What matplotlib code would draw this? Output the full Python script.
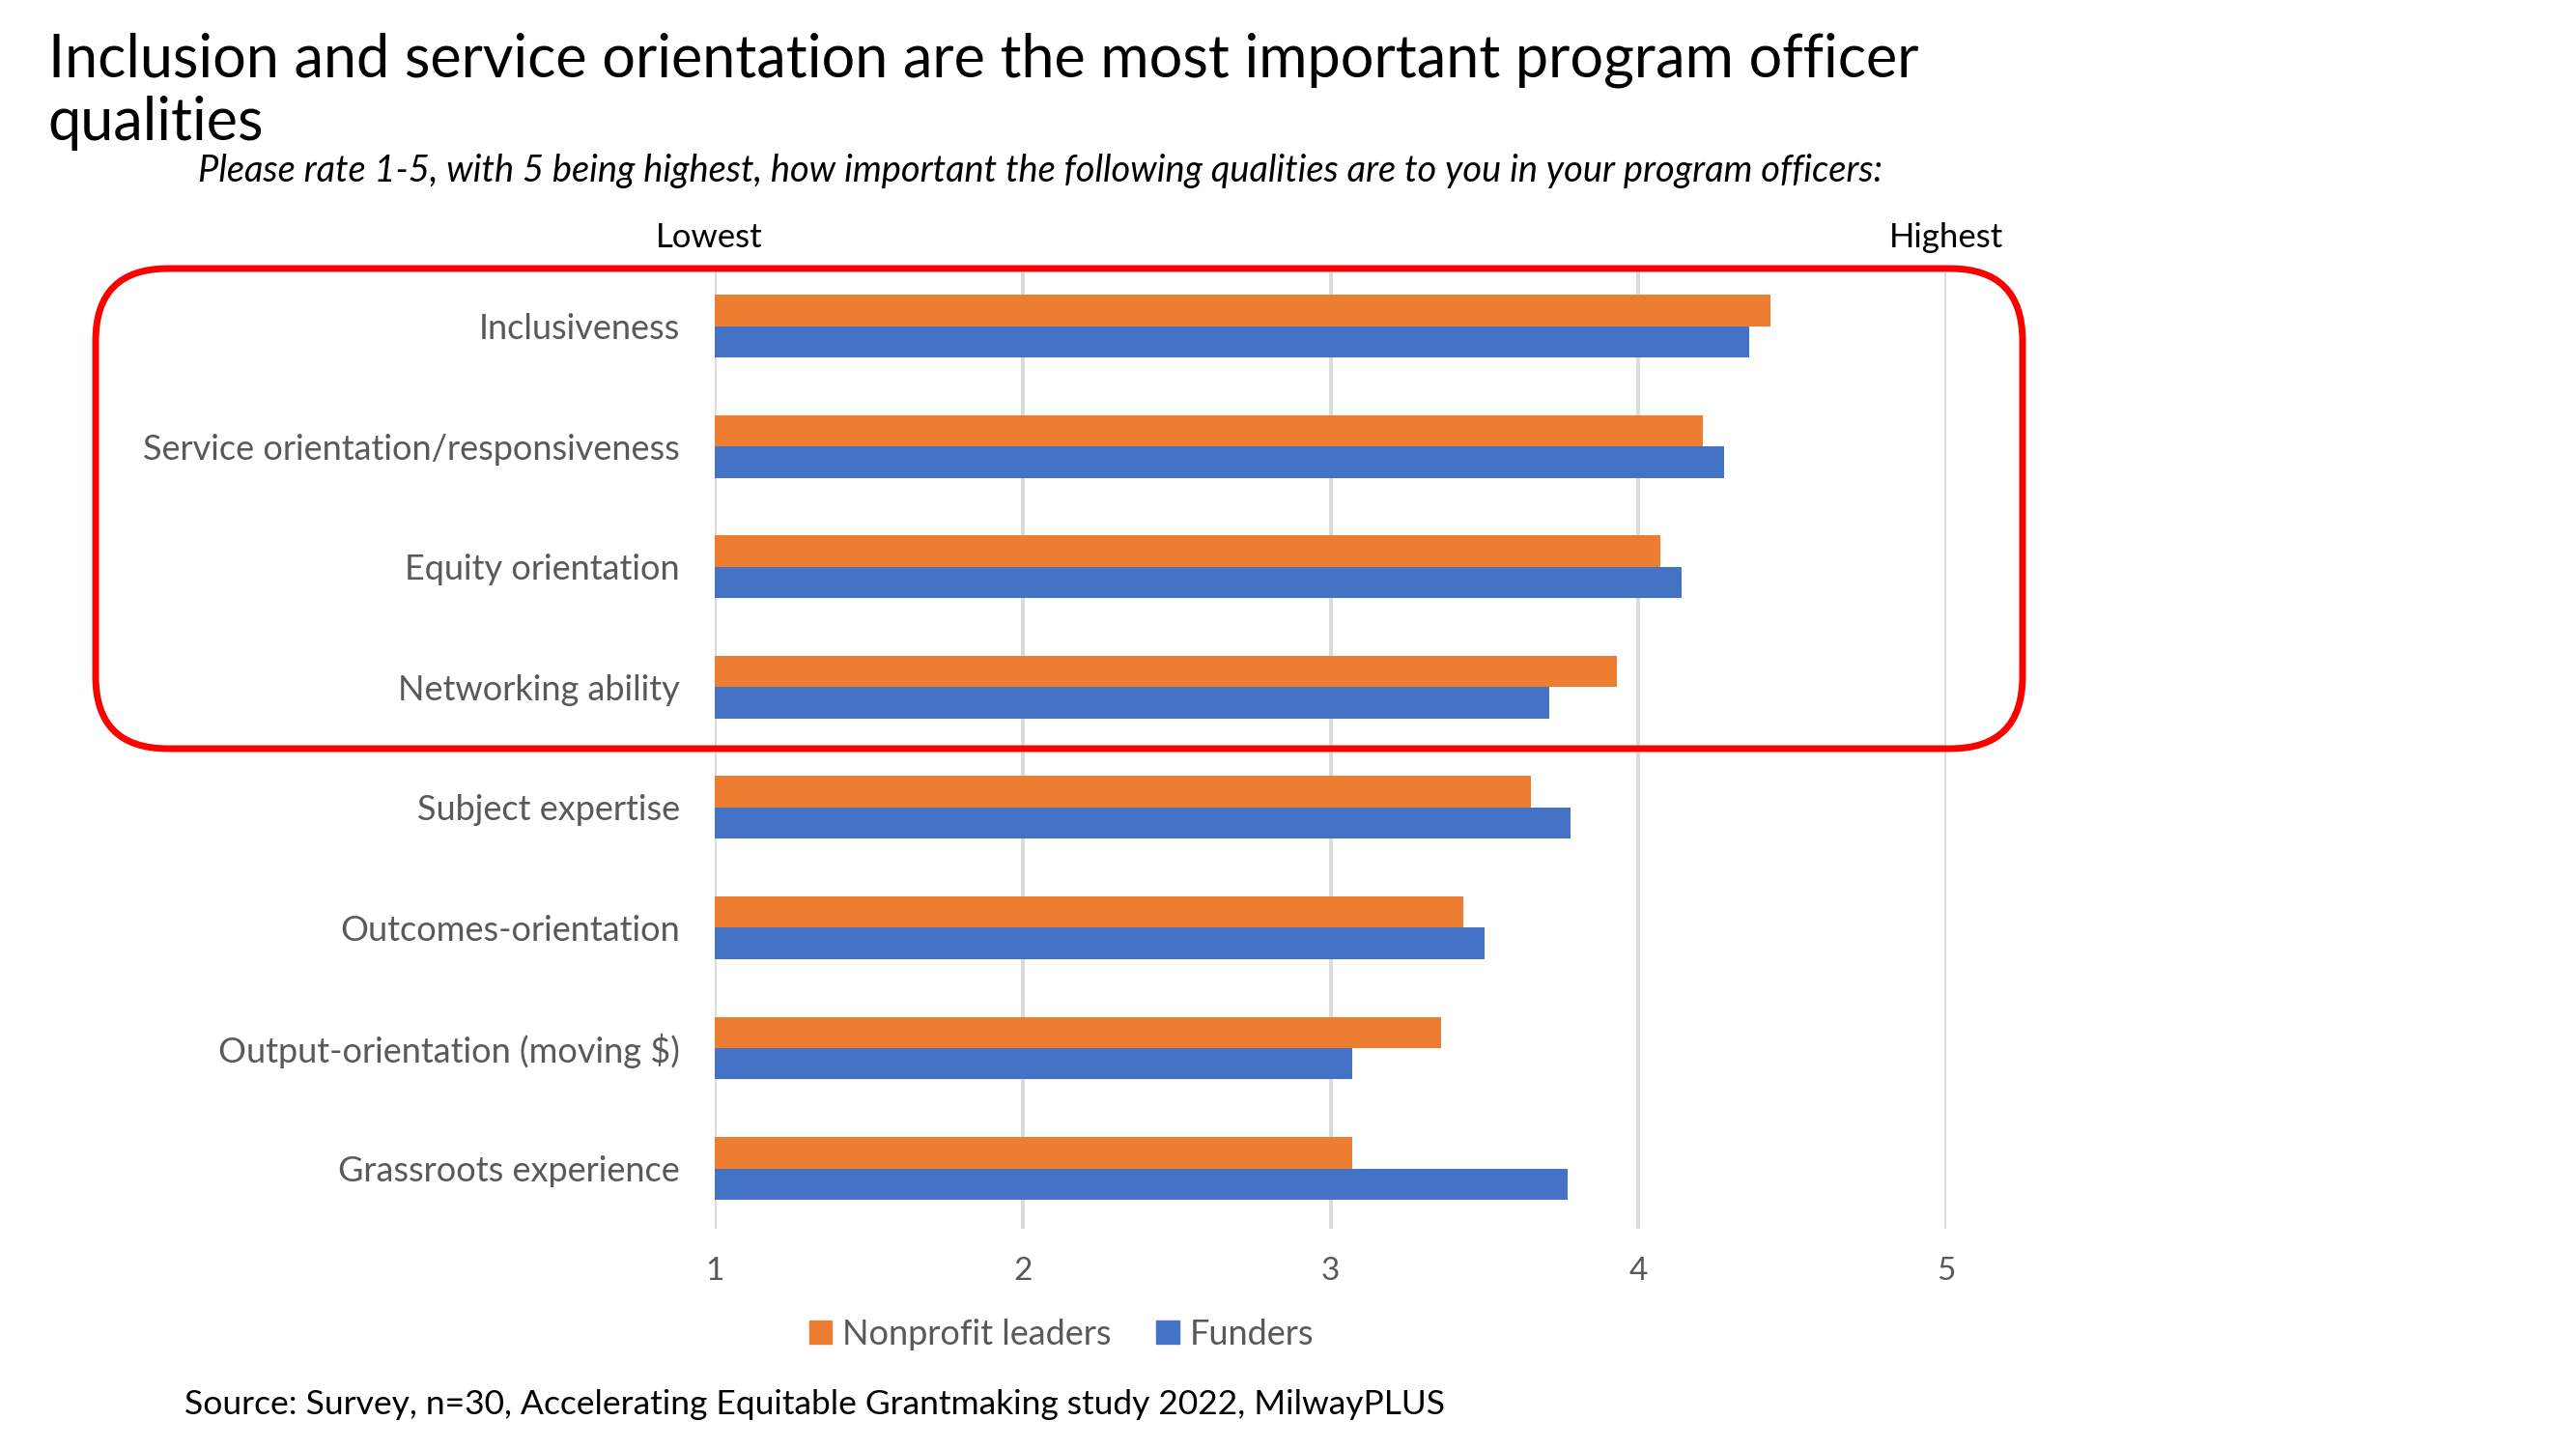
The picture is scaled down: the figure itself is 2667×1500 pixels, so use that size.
import matplotlib
matplotlib.use("Agg")
import matplotlib.pyplot as plt
import matplotlib.transforms as mtransforms
from matplotlib.patches import FancyBboxPatch, Patch
import numpy as np

plt.rcParams['font.family'] = ['Lato', 'DejaVu Sans']

categories = ['Inclusiveness', 'Service orientation/responsiveness', 'Equity orientation',
              'Networking ability', 'Subject expertise', 'Outcomes-orientation',
              'Output-orientation (moving $)', 'Grassroots experience']
nonprofit = [4.43, 4.21, 4.07, 3.93, 3.65, 3.43, 3.36, 3.07]
funders = [4.36, 4.28, 4.14, 3.71, 3.78, 3.50, 3.07, 3.77]
series_names = ['Nonprofit leaders', 'Funders']
xticks = [1, 2, 3, 4, 5]

orange = '#ED7D31'
blue = '#4472C4'
grey = '#595959'

fig = plt.figure(figsize=(26.67, 15), dpi=100)
ax = fig.add_axes([0.2775, 0.1521, 0.478, 0.6644])

y = np.arange(len(categories))
h = 0.26
ax.barh(y - h / 2, np.array(nonprofit) - 1, left=1, height=h, color=orange, zorder=3)
ax.barh(y + h / 2, np.array(funders) - 1, left=1, height=h, color=blue, zorder=3)

ax.set_xlim(1, 5)
ax.set_ylim(len(categories) - 0.5, -0.5)
ax.set_xticks(xticks)
ax.set_xticklabels([str(t) for t in xticks])
ax.set_yticks(y)
ax.set_yticklabels(categories)
ax.tick_params(axis='y', length=0, pad=26, labelsize=26, labelcolor=grey)
ax.tick_params(axis='x', length=0, pad=21, labelsize=24, labelcolor=grey)
ax.grid(axis='x', color='#D9D9D9', linewidth=2.7, zorder=0)
for s in ax.spines.values():
    s.set_visible(False)

# scale end labels above the plot
shift = mtransforms.ScaledTranslation(-0.06, 0, fig.dpi_scale_trans)
ax.text(1, 1.0193, 'Lowest', transform=ax.get_xaxis_transform() + shift, ha='center',
        va='baseline', fontsize=25, color='black')
ax.text(5, 1.0193, 'Highest', transform=ax.get_xaxis_transform(), ha='center',
        va='baseline', fontsize=25, color='black')

# titles
fig.text(0.0187, 0.947, 'Inclusion and service orientation are the most important program officer',
         fontsize=44, va='baseline', ha='left')
fig.text(0.0187, 0.9033, 'qualities', fontsize=44, va='baseline', ha='left')
fig.text(0.0769, 0.8747, 'Please rate 1-5, with 5 being highest, how important the following '
         'qualities are to you in your program officers:', fontsize=27.4, style='italic',
         va='baseline', ha='left')
fig.text(0.0716, 0.024, 'Source: Survey, n=30, Accelerating Equitable Grantmaking study 2022, MilwayPLUS',
         fontsize=25.5, va='baseline', ha='left')

# legend
handles = [Patch(color=orange), Patch(color=blue)]
fig.legend(handles, series_names, loc='center', bbox_to_anchor=(0.412, 0.079), ncol=2,
           frameon=False, fontsize=26, handlelength=0.65, handleheight=0.65,
           handletextpad=0.3, columnspacing=1.3, labelcolor=grey)

# red highlight box around top four qualities (in inches)
box = FancyBboxPatch((0.99, 7.25), 19.95, 4.97, boxstyle='round,pad=0,rounding_size=0.75',
                     transform=fig.dpi_scale_trans, fill=False, edgecolor='#FF0000',
                     linewidth=5, zorder=10)
fig.patches.append(box)

fig.savefig('out.png', dpi=100)
